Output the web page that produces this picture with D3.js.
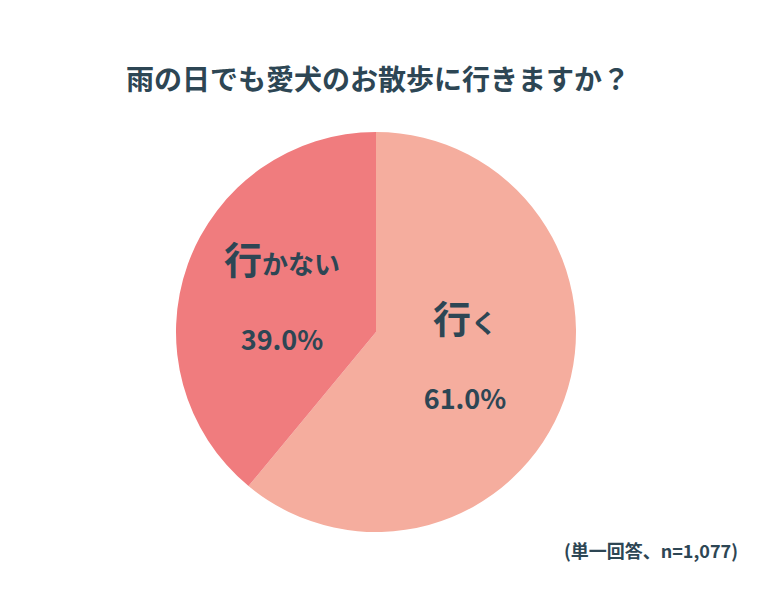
<!DOCTYPE html><html><head><meta charset="utf-8"><script src="https://cdn.jsdelivr.net/npm/d3@7"></script>
<style>body{margin:0;background:#fff}</style></head><body><svg id="c" width="760" height="604"></svg>
<script>
const categories=["行く","行かない"];
const values=[61.0,39.0];
const colors=["#F5AD9E","#F07C7E"];
const note="(単一回答、n=1,077)";
const svg=d3.select("#c");
const font="'Noto Sans CJK JP',sans-serif", tc="#2D4654";
svg.append("text").attr("x",378).attr("y",90).attr("text-anchor","middle").attr("font-family",font).attr("font-weight","bold").attr("font-size",28).attr("fill",tc).text("雨の日でも愛犬のお散歩に行きますか？");
const g=svg.append("g").attr("transform","translate(376,332)");
const pie=d3.pie().sort(null)(values);
const arc=d3.arc().innerRadius(0).outerRadius(200);
g.selectAll("path").data(pie).enter().append("path").attr("d",arc).attr("fill",(d,i)=>colors[i]);
function lab(x,y,big,small,pct){
 const t=g.append("text").attr("x",x).attr("y",y).attr("text-anchor","middle").attr("font-family",font).attr("font-weight","bold").attr("fill",tc);
 t.append("tspan").attr("font-size",38).text(big);
 t.append("tspan").attr("font-size",26).text(small);
 g.append("text").attr("x",x).attr("y",y+76).attr("text-anchor","middle").attr("font-family",font).attr("font-weight","bold").attr("font-size",27).attr("fill",tc).text(pct);
}
lab(89,1,categories[0][0],categories[0].slice(1),values[0].toFixed(1)+"%");
lab(-94,-58,categories[1][0],categories[1].slice(1),values[1].toFixed(1)+"%");
svg.append("text").attr("x",738).attr("y",558).attr("text-anchor","end").attr("font-family",font).attr("font-weight","bold").attr("font-size",18).attr("fill",tc).text(note);
</script></body></html>
